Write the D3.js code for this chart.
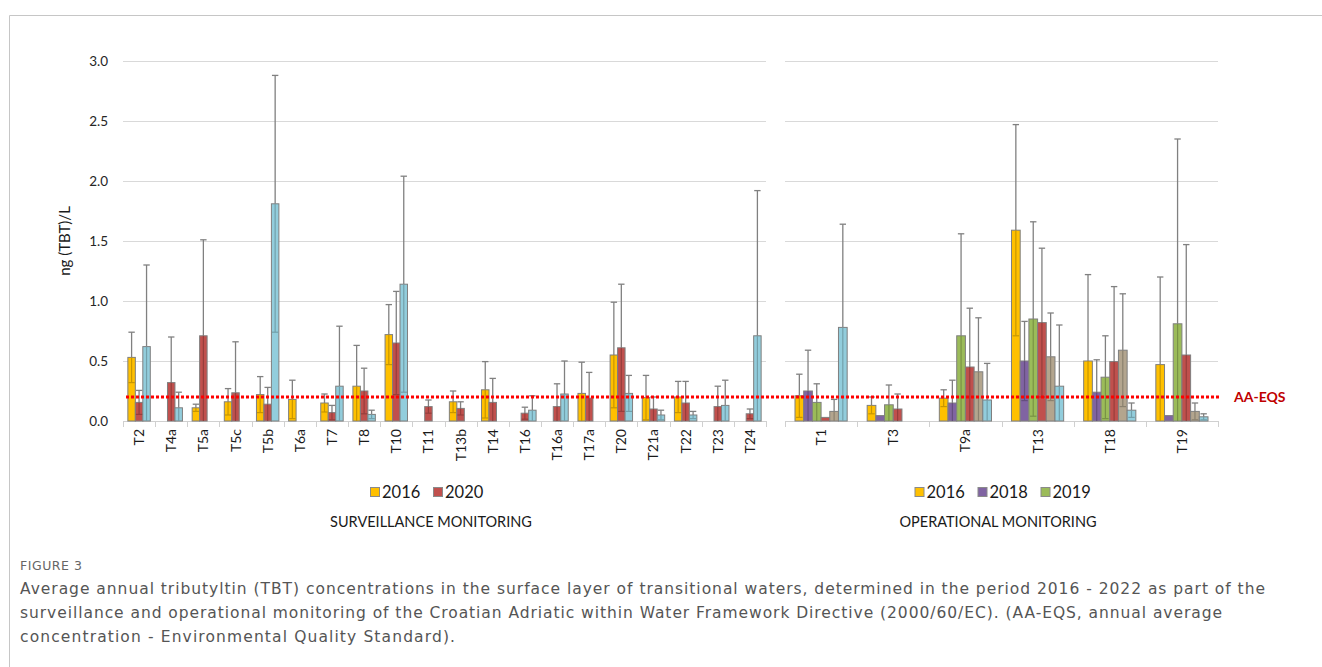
<!DOCTYPE html>
<html lang="en">
<head>
<meta charset="UTF-8">
<title>TBT concentrations - Figure 3</title>
<script src="https://d3js.org/d3.v7.min.js"></script>
<style>
  body { margin: 0; background: #fff; }
  svg text { font-family: Lato, "Noto Sans", sans-serif; }
  .caption { font-family: "DejaVu Sans", "Open Sans", sans-serif; }
</style>
</head>
<body>
<svg id="chart" width="1322" height="667"></svg>
<script>
// ---- data ----
const yTicks = [0, 0.5, 1.0, 1.5, 2.0, 2.5, 3.0];
const aaEqs = 0.2;

// surveillance monitoring stations
const survCats = ["T2", "T4a", "T5a", "T5c", "T5b", "T6a", "T7", "T8", "T10", "T11",
  "T13b", "T14", "T16", "T16a", "T17a", "T20", "T21a", "T22", "T23", "T24"];
const survYears = ["2016", "2020", "2022"];
const surv2016 = [0.53, null, 0.11, 0.16, 0.22, 0.18, 0.15, 0.29, 0.72, null,
  0.16, 0.26, null, null, 0.23, 0.55, 0.195, 0.20, null, null];
const surv2016sd = [0.21, null, 0.03, 0.11, 0.15, 0.16, 0.075, 0.34, 0.25, null,
  0.09, 0.235, null, null, 0.26, 0.44, 0.185, 0.13, null, null];
const surv2020 = [0.155, 0.32, 0.71, 0.235, 0.14, null, 0.07, 0.25, 0.65, 0.12,
  0.105, 0.155, 0.065, 0.12, 0.19, 0.61, 0.10, 0.15, 0.12, 0.06];
const surv2020sd = [0.10, 0.38, 0.80, 0.425, 0.14, null, 0.06, 0.19, 0.43, 0.055,
  0.055, 0.20, 0.05, 0.19, 0.215, 0.53, 0.10, 0.18, 0.17, 0.04];
const surv2022 = [0.62, 0.11, null, null, 1.81, null, 0.29, 0.055, 1.14, null,
  null, null, 0.09, 0.225, null, 0.23, 0.05, 0.05, 0.13, 0.71];
const surv2022sd = [0.68, 0.13, null, null, 1.07, null, 0.50, 0.035, 0.90, null,
  null, null, 0.12, 0.275, null, 0.15, 0.04, 0.03, 0.21, 1.21];

// operational monitoring stations
const operCats = ["T1", "T3", "T9a", "T13", "T18", "T19"];
const operYears = ["2016", "2018", "2019", "2020", "2021", "2022"];
const oper2016 = [0.21, 0.13, 0.19, 1.59, 0.50, 0.47];
const oper2016sd = [0.18, 0.07, 0.07, 0.88, 0.72, 0.73];
const oper2018 = [0.25, 0.045, 0.15, 0.50, 0.24, 0.045];
const oper2018sd = [0.34, null, 0.19, 0.33, 0.27, null];
const oper2019 = [0.155, 0.135, 0.71, 0.85, 0.365, 0.81];
const oper2019sd = [0.155, 0.165, 0.85, 0.81, 0.345, 1.54];
const oper2020 = [0.03, 0.10, 0.45, 0.82, 0.495, 0.55];
const oper2020sd = [null, 0.125, 0.49, 0.62, 0.625, 0.92];
const oper2021 = [0.08, null, 0.41, 0.535, 0.59, 0.08];
const oper2021sd = [0.10, null, 0.45, 0.365, 0.47, 0.07];
const oper2022 = [0.78, null, 0.175, 0.29, 0.09, 0.035];
const oper2022sd = [0.86, null, 0.305, 0.51, 0.06, 0.025];

const colors = { "2016": "#FFC000", "2018": "#8064A2", "2019": "#9BBB59",
  "2020": "#C0504D", "2021": "#B3A58E", "2022": "#92CDDC" };

const survLegend = ["2016", "2020"];
const operLegend = ["2016", "2018", "2019"];

// ---- layout ----
const svg = d3.select("#chart");
const y = d3.scaleLinear().domain([0, 3]).range([421, 61]);

// frame
svg.append("path")
  .attr("d", "M9.5,667 V15.5 H1322")
  .attr("fill", "none").attr("stroke", "#c6c6c6").attr("stroke-width", 1);

function panel(cats, years, means, sds, x0, x1, outerPad, legendItems, legendCx, titleCx, title) {
  const x = d3.scaleBand().domain(cats).range([x0, x1]).padding(0);
  const xs = d3.scaleBand().domain(years).range([0, x.bandwidth()])
    .paddingInner(0).paddingOuter(outerPad);
  const g = svg.append("g");

  // gridlines
  g.selectAll(".grid").data(yTicks.slice(1)).enter().append("line")
    .attr("x1", x0).attr("x2", x1)
    .attr("y1", d => Math.round(y(d)) + 0.5).attr("y2", d => Math.round(y(d)) + 0.5)
    .attr("stroke", "#d9d9d9").attr("stroke-width", 1);

  // baseline + ticks
  g.append("line").attr("x1", x0).attr("x2", x1)
    .attr("y1", y(0) + 0.5).attr("y2", y(0) + 0.5)
    .attr("stroke", "#d0d0d0");
  const bounds = cats.map(c => x(c)).concat([x1]);
  g.selectAll(".tk").data(bounds).enter().append("line")
    .attr("x1", d => Math.round(d) + 0.5).attr("x2", d => Math.round(d) + 0.5)
    .attr("y1", y(0)).attr("y2", y(0) + 6)
    .attr("stroke", "#d0d0d0");

  // build flat list of bars
  const bars = [];
  cats.forEach((c, i) => {
    years.forEach((yr, j) => {
      const m = means[j][i];
      if (m == null) return;
      bars.push({ cat: c, year: yr, mean: m, sd: sds[j][i] });
    });
  });

  const bw = xs.bandwidth();
  g.selectAll(".bar").data(bars).enter().append("rect")
    .attr("x", d => x(d.cat) + xs(d.year))
    .attr("y", d => y(d.mean))
    .attr("width", bw)
    .attr("height", d => y(0) - y(d.mean))
    .attr("fill", d => colors[d.year])
    .attr("stroke", "#7f7f7f").attr("stroke-width", 1);

  // error bars: upper part grey, part inside the bar tinted
  const eb = g.selectAll(".err").data(bars.filter(d => d.sd != null)).enter().append("g");
  const cx = d => x(d.cat) + xs(d.year) + bw / 2;
  const cap = 3.2;
  eb.append("line")
    .attr("x1", cx).attr("x2", cx)
    .attr("y1", d => y(d.mean + d.sd)).attr("y2", d => y(d.mean))
    .attr("stroke", "#808080").attr("stroke-width", 1.3);
  eb.append("line")
    .attr("x1", d => cx(d) - cap).attr("x2", d => cx(d) + cap)
    .attr("y1", d => y(d.mean + d.sd)).attr("y2", d => y(d.mean + d.sd))
    .attr("stroke", "#808080").attr("stroke-width", 1.3);
  eb.append("line")
    .attr("x1", cx).attr("x2", cx)
    .attr("y1", d => y(d.mean)).attr("y2", d => y(Math.max(0, d.mean - d.sd)))
    .attr("stroke", d => d3.color(colors[d.year]).darker(0.7))
    .attr("stroke-width", 1.2);
  eb.filter(d => d.mean - d.sd > 0.005).append("line")
    .attr("x1", d => cx(d) - cap).attr("x2", d => cx(d) + cap)
    .attr("y1", d => y(d.mean - d.sd)).attr("y2", d => y(d.mean - d.sd))
    .attr("stroke", d => d3.color(colors[d.year]).darker(0.7))
    .attr("stroke-width", 1.2);

  // category labels
  g.selectAll(".xl").data(cats).enter().append("text")
    .attr("transform", d => `translate(${x(d) + x.bandwidth() / 2 + 5},429) rotate(-90)`)
    .attr("text-anchor", "end")
    .attr("font-size", 14).attr("fill", "#1a1a1a")
    .text(d => d);

  // legend
  const step = 63, lastW = 47;
  const totalW = step * (legendItems.length - 1) + lastW;
  let lx = legendCx - totalW / 2;
  legendItems.forEach((t, i) => {
    svg.append("rect").attr("x", lx + 0.5).attr("y", 487.5).attr("width", 9).attr("height", 9)
      .attr("fill", colors[t]).attr("stroke", "#8a8a8a").attr("stroke-width", 1);
    svg.append("text").attr("x", lx + 12).attr("y", 498)
      .attr("font-size", 16.5).attr("fill", "#1a1a1a").text(t);
    lx += step;
  });
  svg.append("text").attr("x", titleCx).attr("y", 527)
    .attr("text-anchor", "middle").attr("font-size", 14.5).attr("fill", "#1a1a1a")
    .text(title);
}

// y axis labels
svg.selectAll(".yl").data(yTicks).enter().append("text")
  .attr("x", 108).attr("y", d => y(d)).attr("dy", "0.35em")
  .attr("text-anchor", "end").attr("font-size", 13.5).attr("fill", "#262626")
  .text(d => d3.format(".1f")(d));
svg.append("text")
  .attr("transform", "translate(70,241) rotate(-90)")
  .attr("text-anchor", "middle").attr("font-size", 15).attr("fill", "#1a1a1a")
  .text("ng (TBT)/L");

panel(survCats, survYears, [surv2016, surv2020, surv2022], [surv2016sd, surv2020sd, surv2022sd],
  123, 766, 0.65, survLegend, 425, 431, "SURVEILLANCE MONITORING");
panel(operCats, operYears, [oper2016, oper2018, oper2019, oper2020, oper2021, oper2022],
  [oper2016sd, oper2018sd, oper2019sd, oper2020sd, oper2021sd, oper2022sd],
  785, 1218, 1.15, operLegend, 1001, 998, "OPERATIONAL MONITORING");

// AA-EQS line
svg.append("line")
  .attr("x1", 126).attr("x2", 1221)
  .attr("y1", y(aaEqs)).attr("y2", y(aaEqs))
  .attr("stroke", "#ff0000").attr("stroke-width", 3)
  .attr("stroke-dasharray", "3,2");
svg.append("text").attr("x", 1234).attr("y", y(aaEqs)).attr("dy", "0.35em")
  .attr("font-size", 14).attr("font-weight", "bold").attr("fill", "#c00000")
  .text("AA-EQS");

// caption
const captionLines = [
  "Average annual tributyltin (TBT) concentrations in the surface layer of transitional waters, determined in the period 2016 - 2022 as part of the",
  "surveillance and operational monitoring of the Croatian Adriatic within Water Framework Directive (2000/60/EC). (AA-EQS, annual average",
  "concentration - Environmental Quality Standard)."
];
const captionWidths = [1245, 1202, 435];
svg.append("text").attr("class", "caption").attr("x", 20).attr("y", 570)
  .attr("font-size", 12.5).attr("fill", "#666")
  .attr("textLength", 62).attr("lengthAdjust", "spacing").text("FIGURE 3");
svg.selectAll(".cap").data(captionLines).enter().append("text")
  .attr("class", "caption")
  .attr("x", 20).attr("y", (d, i) => 594 + i * 24)
  .attr("font-size", 15.5).attr("fill", "#555")
  .attr("textLength", (d, i) => captionWidths[i]).attr("lengthAdjust", "spacing")
  .text(d => d);
</script>
</body>
</html>
